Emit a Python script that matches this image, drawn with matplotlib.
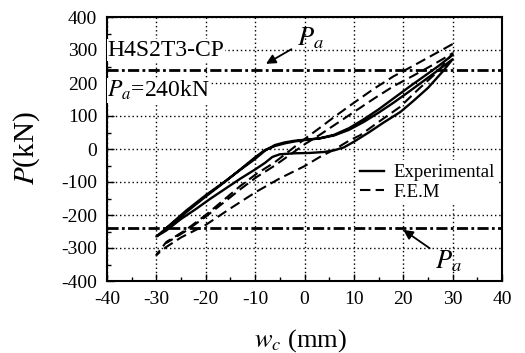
import matplotlib
matplotlib.use("Agg")
import matplotlib.pyplot as plt
from matplotlib.ticker import MultipleLocator

plt.rcParams['font.family'] = ['Liberation Serif', 'DejaVu Serif']
plt.rcParams['mathtext.fontset'] = 'stix'
plt.rcParams['axes.unicode_minus'] = False

# Experimental hysteresis path (w_c in mm, P in kN)
exp_w = [30, 27, 24, 21, 18, 15, 12, 9, 6, 3, 0, -2, -4, -6, -8, -10, -13, -16, -20, -24, -27, -30,
         -28, -25, -22, -19, -16, -13, -10, -8, -6.5, -5, -2, 1, 4, 6, 8, 10, 13, 16, 19.4, 22, 25, 28, 30,
         27, 24, 21, 18, 15, 12, 9, 6, 3, 0, -2, -4, -6, -8, -10, -13, -16, -20, -24, -28]
exp_P = [285, 250, 218, 186, 153, 120, 90, 63, 43, 32, 27, 23, 17, 9, -3, -25, -62, -98, -144, -192, -228, -265,
         -247, -212, -182, -150, -120, -90, -62, -42, -24, -16, -13, -12, -9, -4, 5, 22, 50, 80, 112, 145, 185, 235, 272,
         238, 205, 172, 140, 110, 82, 58, 41, 32, 28, 25, 20, 12, -5, -30, -63, -97, -140, -187, -240]

# F.E.M hysteresis path
fem_w = [30, 26, 22, 18, 14, 10, 6, 3, 0, -3, -6, -9.7, -13, -16, -20, -24, -28, -30,
         -28, -25, -20, -15, -9.7, -5, 0, 3, 6, 9, 11.3, 15, 19.3, 23, 27, 30,
         26, 22, 18, 14, 10, 6, 3, 0, -3, -6, -9.7, -13, -16, -20, -24, -28]
fem_P = [318, 285, 252, 220, 182, 140, 97, 63, 30, -5, -40, -75, -112, -150, -200, -245, -282, -321,
         -297, -268, -230, -180, -129, -89, -52, -25, -2, 25, 42, 82, 127, 180, 235, 290,
         255, 222, 190, 152, 112, 72, 42, 14, -18, -50, -85, -122, -158, -205, -248, -285]

Pa = 240
xticks = [-40, -30, -20, -10, 0, 10, 20, 30, 40]
yticks = [-400, -300, -200, -100, 0, 100, 200, 300, 400]

fig = plt.figure(figsize=(5.25, 3.53), dpi=100)
W, H = 525, 353
L, R, T, B = 107, 502, 17, 281
ax = fig.add_axes([L / W, 1 - B / H, (R - L) / W, (B - T) / H])

ax.set_xlim(-40, 40)
ax.set_ylim(-400, 400)
ax.set_xticks(xticks)
ax.set_yticks(yticks)
ax.xaxis.set_minor_locator(MultipleLocator(5))
ax.yaxis.set_minor_locator(MultipleLocator(50))
ax.tick_params(which='both', direction='in', top=False, right=False)
ax.tick_params(which='major', length=5, width=1, labelsize=14)
ax.tick_params(axis='x', which='major', pad=7)
ax.tick_params(axis='y', which='major', pad=7)
ax.tick_params(which='minor', length=3, width=1)
for s in ax.spines.values():
    s.set_linewidth(1.5)

ax.grid(True, which='major', color='black', linestyle=(0, (1, 2)), linewidth=1)
ax.set_axisbelow(True)

ax.axhline(Pa, color='black', lw=2, linestyle=(0, (4, 1.2, 1, 1.2)), zorder=2)
ax.axhline(-Pa, color='black', lw=2, linestyle=(0, (4, 1.2, 1, 1.2)), zorder=2)

ax.plot(exp_w, exp_P, color='black', lw=1.7, label='Experimental', zorder=3)
ax.plot(fem_w, fem_P, color='black', lw=1.5, linestyle=(0, (5, 2.5)), label='F.E.M', zorder=3)

ax.text(-39.9, 300, 'H4S2T3-CP', fontsize=17, ha='left', va='center',
        bbox=dict(facecolor='white', edgecolor='none', pad=0.5), zorder=4)
ax.text(-39.9, 178, r'$P_a$=240kN', fontsize=17, ha='left', va='center',
        bbox=dict(facecolor='white', edgecolor='none', pad=0.5), zorder=4)

ax.annotate(r'$P_a$', xy=(-7.8, 258), xytext=(-1.6, 335), fontsize=19,
            ha='left', va='center',
            arrowprops=dict(arrowstyle='-|>', color='black', lw=1.3,
                            mutation_scale=14, shrinkA=2, shrinkB=0), zorder=5)
ax.annotate(r'$P_a$', xy=(20, -245), xytext=(26.4, -340), fontsize=19,
            ha='left', va='center',
            arrowprops=dict(arrowstyle='-|>', color='black', lw=1.3,
                            mutation_scale=14, shrinkA=2, shrinkB=0), zorder=5)

leg = ax.legend(loc='center left', bbox_to_anchor=(0.631, 0.373), fontsize=13.5,
                frameon=True, fancybox=False, edgecolor='none', facecolor='white',
                framealpha=1, handlelength=1.3, handletextpad=0.5,
                labelspacing=0.15, borderpad=0.2, borderaxespad=0)
leg.set_zorder(4)

fig.text(301 / W, 1 - 341 / H, r'$w_c$ (mm)', fontsize=19, ha='center', va='center')
fig.text(27 / W, 1 - 148 / H, r'$P$(kN)', fontsize=21, ha='center', va='center',
         rotation=90)

fig.savefig('out.png', dpi=100)
